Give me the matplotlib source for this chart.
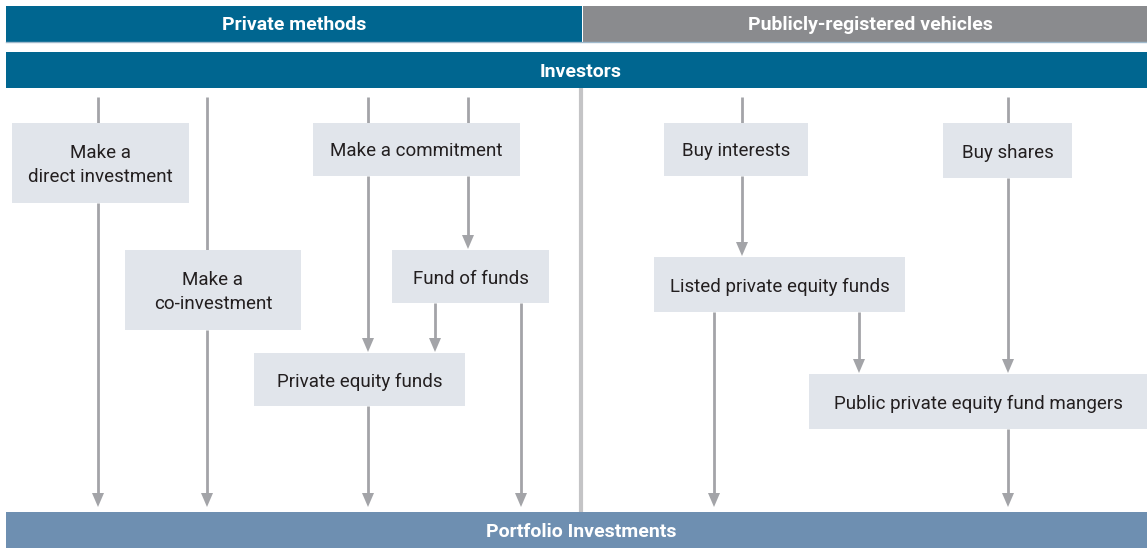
import matplotlib
matplotlib.use("Agg")
import matplotlib.pyplot as plt
from matplotlib.patches import Rectangle, Polygon

plt.rcParams["font.family"] = ["Roboto", "Liberation Sans", "DejaVu Sans"]

# colours
dark_blue = "#006690"
grey_head = "#8a8b8e"
bottom_blue = "#6e8fb1"
box_fill = "#e1e5eb"
arrow_col = "#a3a4a8"
divider = "#c4c4c6"

# header texts
header_left = "Private methods"
header_right = "Publicly-registered vehicles"
top_bar = "Investors"
bottom_bar = "Portfolio Investments"

# boxes: label, (x0, y0, x1, y1) in pixel coords
box_labels = ["Make a\ndirect investment", "Make a\nco-investment", "Make a commitment",
              "Fund of funds", "Private equity funds", "Buy interests", "Buy shares",
              "Listed private equity funds", "Public private equity fund mangers"]
box_geom = [(12, 123, 189, 203), (125, 250, 301, 330), (313, 123, 520, 176),
            (392, 250, 549, 303), (254, 353, 465, 406), (664, 123, 808, 176),
            (943, 123, 1072, 178), (654, 257, 905, 312), (809, 374, 1147, 429)]

# connectors: x, y_start, y_end, has arrowhead
links = [(98, 97, 123, False), (98, 203, 507, True),
         (207, 97, 250, False), (207, 330, 507, True),
         (368, 97, 123, False), (368, 176, 352, True), (368, 406, 507, True),
         (468, 97, 123, False), (468, 176, 249, True),
         (435, 303, 352, True), (521, 303, 507, True),
         (742, 97, 123, False), (742, 176, 256, True),
         (1008, 97, 123, False), (1008, 178, 373, True), (1008, 429, 507, True),
         (714, 312, 507, True), (859, 312, 373, True)]

fig = plt.figure(figsize=(11.47, 5.48), dpi=100)
ax = fig.add_axes([0, 0, 1, 1])
ax.set_xlim(0, 1147)
ax.set_ylim(548, 0)
ax.axis("off")

# header bars
ax.add_patch(Rectangle((6, 6), 576, 36, color=dark_blue, lw=0))
ax.add_patch(Rectangle((583, 6), 564, 36, color=grey_head, lw=0))
ax.plot([6, 1147], [42, 42], color="#9fb9cc", lw=1)
ax.text(294, 25, header_left, color="white", fontsize=14, weight="bold", ha="center", va="center")
ax.text(870, 25, header_right, color="white", fontsize=14, weight="bold", ha="center", va="center")

ax.add_patch(Rectangle((6, 52), 1141, 36, color=dark_blue, lw=0))
ax.text(581, 72, top_bar, color="white", fontsize=14, weight="bold", ha="center", va="center")

# divider
ax.plot([581, 581], [88, 512], color=divider, lw=3, solid_capstyle="butt")

ax.add_patch(Rectangle((6, 512), 1141, 36, color=bottom_blue, lw=0))
ax.text(581, 532, bottom_bar, color="white", fontsize=14, weight="bold", ha="center", va="center")

# connectors
for x, y0, y1, head in links:
    if head:
        ax.plot([x, x], [y0, y1 - 12], color=arrow_col, lw=2, solid_capstyle="butt")
        ax.add_patch(Polygon([(x - 6, y1 - 14), (x + 6, y1 - 14), (x, y1)],
                             closed=True, color=arrow_col, lw=0))
    else:
        ax.plot([x, x], [y0, y1], color=arrow_col, lw=2, solid_capstyle="butt")

# boxes
for label, (x0, y0, x1, y1) in zip(box_labels, box_geom):
    ax.add_patch(Rectangle((x0, y0), x1 - x0, y1 - y0, color=box_fill, lw=0, zorder=3))
    ax.text((x0 + x1) / 2, (y0 + y1) / 2 + 2, label, fontsize=13.5, color="#231f20",
            ha="center", va="center", linespacing=1.45, zorder=4)

fig.savefig("out.png", dpi=100)
